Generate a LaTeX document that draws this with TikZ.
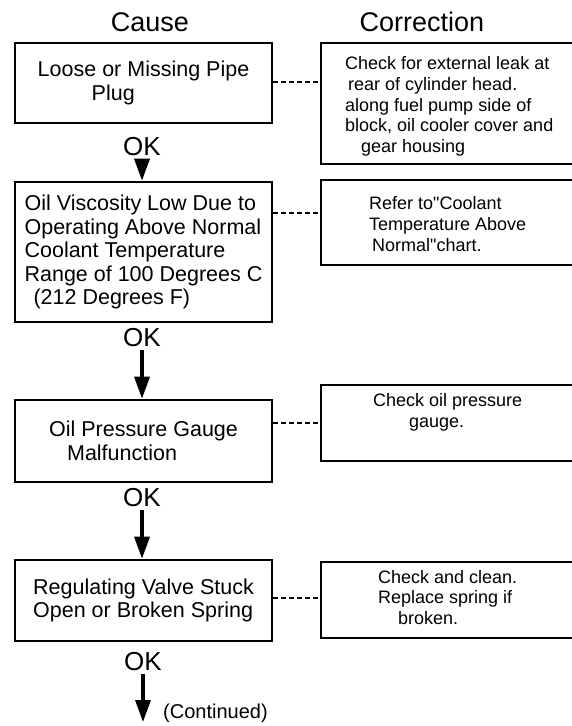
\documentclass[tikz,border=0pt]{standalone}
\usepackage{fontspec}
\setmainfont{Liberation Sans}[Ligatures=TeXOff]
\usepackage{tikz}
\usetikzlibrary{arrows.meta,positioning}
\tikzset{
  causebox/.style={
    draw=black, line width=2.6pt, align=left, inner sep=0pt,
    minimum width=257pt, font=\fontsize{21.5}{23.5}\selectfont
  },
  fixbox/.style={draw=black, line width=2pt, minimum width=269pt, inner sep=0pt},
  fixtext/.style={align=left, inner sep=0pt, anchor=west,
    font=\fontsize{18}{20.7}\selectfont},
  heading/.style={font=\fontsize{27}{30}\selectfont, inner sep=0pt},
  oktag/.style={font=\fontsize{26}{28}\selectfont, inner sep=3pt},
  flow/.style={-{Triangle[length=22pt,width=15pt]}, line width=3.4pt},
  tie/.style={line width=1.6pt, dash pattern=on 5pt off 3pt}
}

\begin{document}
\begin{tikzpicture}[x=1pt,y=-1pt]
  \useasboundingbox (0,0) rectangle (572,726);

  % column heads
  \node[heading] (hcause) at (150,22) {Cause};
  \node[heading] (hfix) at (422,22) {Correction};

  % causes
  \node[causebox, minimum height=80pt] (cause1) at (143.5,83)
     {Loose or Missing Pipe\\\hspace*{54pt}Plug};
  \node[causebox, minimum height=140pt] (cause2) at (143.5,252)
     {Oil Viscosity Low Due to\\Operating Above Normal\\Coolant Temperature\\Range of 100 Degrees C\\\hspace*{9pt}(212 Degrees F)};
  \node[causebox, minimum height=82pt] (cause3) at (143.5,441)
     {Oil Pressure Gauge\\\hspace*{18pt}Malfunction};
  \node[causebox, minimum height=81pt] (cause4) at (143.5,600.5)
     {Regulating Valve Stuck\\Open or Broken Spring};

  % corrections
  \node[fixbox, minimum height=121pt] (fix1) at (455.5,103.5) {};
  \node[fixbox, minimum height=85pt] (fix2) at (455.5,222.5) {};
  \node[fixbox, minimum height=76pt] (fix3) at (455.5,423) {};
  \node[fixbox, minimum height=76pt] (fix4) at (455.5,600) {};

  \node[fixtext] (fix1txt) at (345,106.5)
     {Check for external leak at\\\hspace*{3pt}rear of cylinder head.\\along fuel pump side of\\block, oil cooler cover and\\\hspace*{16pt}gear housing};
  \node[fixtext] (fix2txt) at (369,224)
     {Refer to"Coolant\\Temperature Above\\\hspace*{3pt}Normal"chart.};
  \node[fixtext] (fix3txt) at (373,412.5)
     {Check oil pressure\\\hspace*{36pt}gauge.};
  \node[fixtext] (fix4txt) at (378,597.5)
     {Check and clean.\\Replace spring if\\\hspace*{20pt}broken.};

  % tie levels
  \coordinate (lvl1) at (0,82);
  \coordinate (lvl2) at (0,213);
  \coordinate (lvl3) at (0,423);
  \coordinate (lvl4) at (0,598);
  \foreach \i in {1,...,4}
    \draw[tie] (cause\i.east |- lvl\i) -- (fix\i.west |- lvl\i);

  % OK steps
  \node[oktag] (ok1) at (142,147) {OK};
  \node[oktag] (ok2) at (142,338) {OK};
  \node[oktag] (ok3) at (142,498) {OK};
  \node[oktag] (ok4) at (143,662) {OK};
  \coordinate (cont) at (143,722);
  \node[anchor=west, inner sep=0pt, font=\fontsize{20}{22}\selectfont] (contd) at (163,713) {(Continued)};

  \draw[flow] (ok1) -- (ok1 |- cause2.north);
  \draw[flow] (ok2) -- (ok2 |- cause3.north);
  \draw[flow] (ok3) -- (ok3 |- cause4.north);
  \draw[flow] (ok4) -- (cont);
\end{tikzpicture}
\end{document}
